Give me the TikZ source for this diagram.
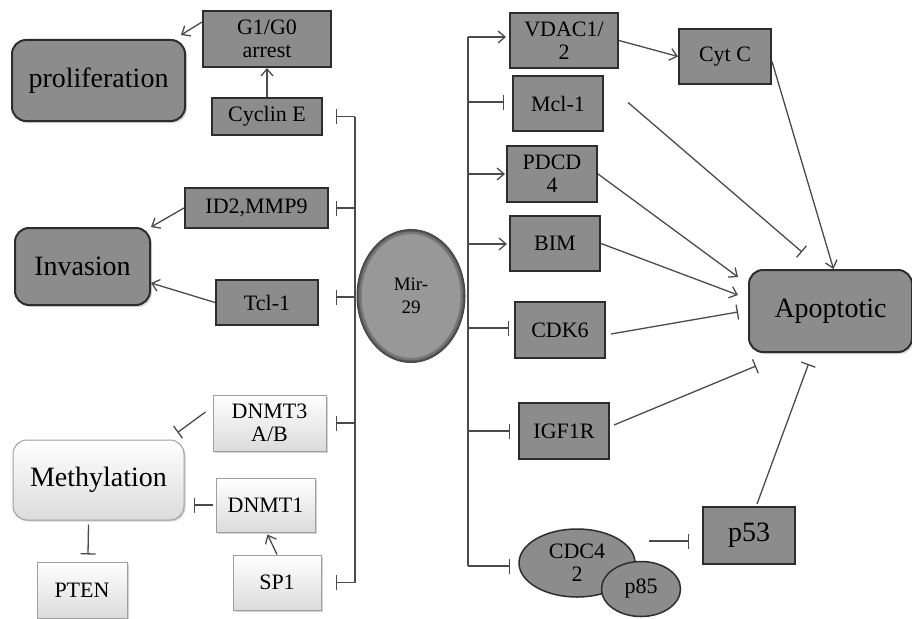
\documentclass[tikz,border=0pt]{standalone}
\usepackage{fontspec}
\setmainfont{Liberation Serif}
\usetikzlibrary{arrows.meta,calc,shapes.geometric,shadows}
\definecolor{boxg}{RGB}{140,140,140}
\definecolor{edgec}{RGB}{45,45,45}
\definecolor{lnk}{RGB}{75,75,75}
\definecolor{mirA}{RGB}{152,152,152}
\definecolor{mirC}{RGB}{118,118,118}
\definecolor{mirD}{RGB}{70,70,70}
\begin{document}
\begin{tikzpicture}[x=1pt,y=-1pt,
  dbox/.style={draw=edgec, line width=2pt, fill=boxg, inner sep=0pt, align=center,
    font=\fontsize{22}{23}\selectfont},
  lbox/.style={draw=gray!75, line width=1pt, top color=white, bottom color=gray!28,
    inner sep=0pt, align=center, font=\fontsize{22}{23}\selectfont,
    drop shadow={opacity=0.35, shadow xshift=1.5pt, shadow yshift=-1.5pt}},
  bigbox/.style={dbox, rounded corners=14pt, font=\fontsize{28}{30}\selectfont,
    drop shadow={opacity=0.3, shadow xshift=2pt, shadow yshift=-2pt}},
  oval/.style={ellipse, draw=edgec, line width=1.5pt, fill=boxg, inner sep=0pt, align=center,
    font=\fontsize{22}{23}\selectfont},
  act/.style={draw=lnk, line width=1.3pt, -{Straight Barb[length=7pt,width=12pt,line width=1.3pt]}},
  inh/.style={draw=lnk, line width=1.3pt, -{Bar[width=15pt,line width=1.3pt]}},
  brk/.style={draw=lnk, line width=1.3pt}]
\useasboundingbox (0,0) rectangle (912,618);

% left side
\node[dbox, minimum width=128pt, minimum height=56pt] (g1) at (267,39) {G1/G0\\arrest};
\node[bigbox, minimum width=173pt, minimum height=81pt] (prolif) at (98.5,80.5) {proliferation};
\node[dbox, minimum width=110pt, minimum height=37pt] (cyclin) at (267,116.5) {Cyclin E};
\node[dbox, minimum width=143pt, minimum height=40pt] (id2) at (256.5,208) {ID2,MMP9};
\node[bigbox, minimum width=135pt, minimum height=77pt] (inv) at (82.5,266.5) {Invasion};
\node[dbox, minimum width=102pt, minimum height=45pt] (tcl) at (267,302.5) {Tcl-1};
\node[lbox, minimum width=113pt, minimum height=56pt] (dn3) at (269.5,423) {DNMT3\\A/B};
\node[lbox, rounded corners=14pt, minimum width=171pt, minimum height=80pt,
  font=\fontsize{28}{30}\selectfont] (meth) at (98.5,480) {Methylation};
\node[lbox, minimum width=99pt, minimum height=54pt] (dn1) at (265.5,505) {DNMT1};
\node[lbox, minimum width=88pt, minimum height=55pt] (sp1) at (277,582.5) {SP1};
\node[lbox, minimum width=90pt, minimum height=56pt] (pten) at (82,590) {PTEN};

% centre
\node[ellipse, fill=mirA, draw=mirD, line width=1pt,
  minimum width=108pt, minimum height=133pt, inner sep=0pt, align=center,
  font=\fontsize{19}{23}\selectfont,
  path picture={
    \draw[line width=9pt, mirC] (path picture bounding box.center) ellipse [x radius=54pt, y radius=66.5pt];
    \draw[line width=4pt, mirD!70!mirC] (path picture bounding box.center) ellipse [x radius=54pt, y radius=66.5pt];
  }] (mir) at (411,296) {Mir-\\29};

% right side
\node[dbox, minimum width=108pt, minimum height=55pt] (vdac) at (564,40.5) {VDAC1/\\2};
\node[dbox, minimum width=90pt, minimum height=55pt] (mcl) at (558,103.5) {Mcl-1};
\node[dbox, minimum width=90pt, minimum height=56pt] (pdcd) at (552,174) {PDCD\\4};
\node[dbox, minimum width=90pt, minimum height=55pt] (bim) at (555,243.5) {BIM};
\node[dbox, minimum width=90pt, minimum height=56pt] (cdk6) at (560,330) {CDK6};
\node[dbox, minimum width=90pt, minimum height=56pt] (igf) at (564,431) {IGF1R};
\node[oval, minimum width=116pt, minimum height=68pt] (cdc) at (577,563) {CDC4\\2};
\node[oval, minimum width=79pt, minimum height=55pt] (p85) at (641,589) {p85};
\node[dbox, minimum width=92pt, minimum height=57pt, font=\fontsize{28}{30}\selectfont] (p53) at (749,535.5) {p53};
\node[dbox, minimum width=92pt, minimum height=55pt] (cytc) at (725,56.5) {Cyt C};
\node[bigbox, minimum width=163pt, minimum height=82pt] (apop) at (830.5,311) {Apoptotic};

% left bracket
\coordinate (lbT) at (355,116.5);
\coordinate (lbB) at (355,582.5);
\coordinate (lcyc) at (355,116.5);
\coordinate (lid2) at (355,208);
\coordinate (ltcl) at (355,297);
\coordinate (ldn3) at (355,423);
\coordinate (lsp1) at (355,582.5);
\draw[brk] (lbT) -- (lbB);
\draw[inh, shorten >=13pt] (lcyc) -- (lcyc -| cyclin.east);
\draw[inh, shorten >=7pt] (lid2) -- (lid2 -| id2.east);
\draw[inh, shorten >=17pt] (ltcl) -- (ltcl -| tcl.east);
\draw[inh, shorten >=9pt] (ldn3) -- (ldn3 -| dn3.east);
\draw[inh, shorten >=14pt] (lsp1) -- (lsp1 -| sp1.east);

% right bracket
\coordinate (rbT) at (468,37);
\coordinate (rbB) at (468,566);
\coordinate (rvd) at (468,37);
\coordinate (rmc) at (468,102);
\coordinate (rpd) at (468,174);
\coordinate (rbi) at (468,244);
\coordinate (rcd) at (468,328);
\coordinate (rig) at (468,431);
\coordinate (rcc) at (468,566);
\draw[brk] (rbT) -- (rbB);
\draw[act, shorten >=3pt] (rvd) -- (rvd -| vdac.west);
\draw[inh, shorten >=8pt] (rmc) -- (rmc -| mcl.west);
\draw[act, shorten >=1pt] (rpd) -- (rpd -| pdcd.west);
\draw[act, shorten >=2pt] (rbi) -- (rbi -| bim.west);
\draw[inh, shorten >=5pt] (rcd) -- (rcd -| cdk6.west);
\draw[inh, shorten >=8pt] (rig) -- (rig -| igf.west);
\draw[inh, shorten >=8pt] (rcc) -- (rcc -| cdc.west);

% left links
\draw[act] ($(g1.west)+(0,-17)$) -- ($(prolif.north east)+(-5,-4)$);
\draw[act] (cyclin.north) -- (g1.south);
\draw[act] (id2.west) -- (inv.north east);
\draw[act] (tcl.west) -- ($(inv.east)+(0,16.5)$);
\draw[inh] ($(dn3.west)+(-7,-11)$) -- ($(meth.north east)+(-7,-7)$);
\draw[inh] ($(dn1.west)+(-3,0)$) -- ($(meth.east |- dn1.west)+(9,0)$);
\draw[inh] ($(meth.south)+(-10,4)$) -- ($(pten.north)+(6,-7)$);
\draw[act] (sp1.north) -- ($(dn1.south)+(2,2)$);

% right links
\draw[act] (vdac.east) -- (cytc.west);
\draw[act] ($(cytc.east)+(0,5)$) -- ($(apop.north)+(3,0)$);
\draw[inh] ($(mcl.east)+(24,-1)$) -- ($(apop.north west)+(54,-17)$);
\draw[act] (pdcd.east) -- ($(apop.west)+(-10,-34)$);
\draw[act] (bim.east) -- ($(apop.west)+(-10,-16)$);
\draw[inh] ($(cdk6.east)+(5,4)$) -- ($(apop.west)+(-10,1)$);
\draw[inh] ($(igf.east)+(4,-6)$) -- ($(apop.south west)+(8,13)$);
\draw[inh] ($(p53.north)+(8,-2)$) -- ($(apop.south)+(-22,11)$);
\draw[inh] ($(cdc.east)+(13,-22)$) -- ($(p53.west)+(-13,5.5)$);
\end{tikzpicture}
\end{document}
